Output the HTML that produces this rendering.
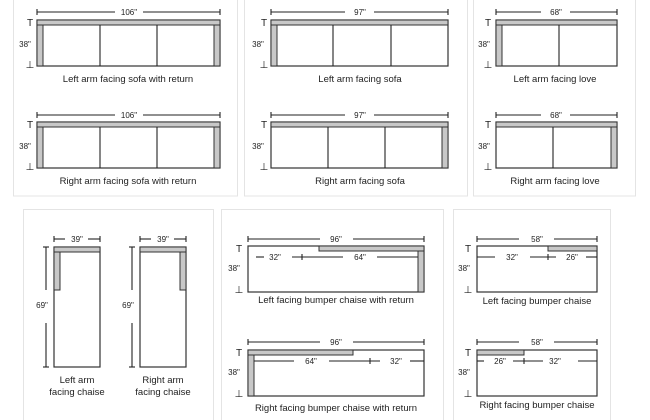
<!DOCTYPE html>
<html><head><meta charset="utf-8"><style>
html,body{margin:0;padding:0;background:#fff;}
svg{display:block;}
text{font-family:"Liberation Sans",sans-serif;fill:#222;}
.lab{font-size:9.5px;text-anchor:middle;}
.dim{font-size:8px;text-anchor:middle;}
.tk{font-size:10px;text-anchor:middle;}
.s{fill:none;stroke:#333;stroke-width:1.2;}
.g{fill:#c8c8c8;stroke:#333;stroke-width:1;}
.d{stroke:#222;stroke-width:1.1;}
.p{fill:none;stroke:#e4e4e4;stroke-width:1;}
</style></head><body>
<svg width="650" height="420" viewBox="0 0 650 420" xmlns="http://www.w3.org/2000/svg">
<rect class="p" x="13.5" y="-5" width="224" height="201"/>
<rect class="p" x="244.5" y="-5" width="223" height="201"/>
<rect class="p" x="473.5" y="-5" width="162" height="201"/>
<rect class="p" x="23.5" y="209.5" width="190" height="215"/>
<rect class="p" x="221.5" y="209.5" width="222" height="215"/>
<rect class="p" x="453.5" y="209.5" width="157" height="215"/>

<g>
<line class="d" x1="37" y1="12" x2="115" y2="12"/><line class="d" x1="143" y1="12" x2="220" y2="12"/>
<line class="d" x1="37" y1="9" x2="37" y2="15"/><line class="d" x1="220" y1="9" x2="220" y2="15"/>
<text class="dim" x="129" y="15">106"</text>
<rect class="s" x="37" y="20" width="183" height="46"/>
<rect class="g" x="37" y="20" width="183" height="5"/>
<rect class="g" x="37" y="25" width="6" height="41"/><rect class="g" x="214" y="25" width="6" height="41"/>
<line class="d" x1="100" y1="25" x2="100" y2="66"/><line class="d" x1="157" y1="25" x2="157" y2="66"/>
<text class="tk" x="30" y="26">T</text><text class="dim" x="25" y="47">38"</text><text class="tk" x="30" y="68">⊥</text>
<text class="lab" x="128" y="82">Left arm facing sofa with return</text>
</g>
<g>
<line class="d" x1="37" y1="115" x2="115" y2="115"/><line class="d" x1="143" y1="115" x2="220" y2="115"/>
<line class="d" x1="37" y1="112" x2="37" y2="118"/><line class="d" x1="220" y1="112" x2="220" y2="118"/>
<text class="dim" x="129" y="118">106"</text>
<rect class="s" x="37" y="122" width="183" height="46"/>
<rect class="g" x="37" y="122" width="183" height="5"/>
<rect class="g" x="37" y="127" width="6" height="41"/><rect class="g" x="214" y="127" width="6" height="41"/>
<line class="d" x1="100" y1="127" x2="100" y2="168"/><line class="d" x1="157" y1="127" x2="157" y2="168"/>
<text class="tk" x="30" y="128">T</text><text class="dim" x="25" y="149">38"</text><text class="tk" x="30" y="170">⊥</text>
<text class="lab" x="128" y="184">Right arm facing sofa with return</text>
</g>

<g>
<line class="d" x1="271" y1="12" x2="345" y2="12"/><line class="d" x1="374" y1="12" x2="448" y2="12"/>
<line class="d" x1="271" y1="9" x2="271" y2="15"/><line class="d" x1="448" y1="9" x2="448" y2="15"/>
<text class="dim" x="360" y="15">97"</text>
<rect class="s" x="271" y="20" width="177" height="46"/>
<rect class="g" x="271" y="20" width="177" height="5"/>
<rect class="g" x="271" y="25" width="6" height="41"/>
<line class="d" x1="333" y1="25" x2="333" y2="66"/><line class="d" x1="391" y1="25" x2="391" y2="66"/>
<text class="tk" x="264" y="26">T</text><text class="dim" x="258" y="47">38"</text><text class="tk" x="264" y="68">⊥</text>
<text class="lab" x="360" y="82">Left arm facing sofa</text>
</g>
<g>
<line class="d" x1="271" y1="115" x2="345" y2="115"/><line class="d" x1="374" y1="115" x2="448" y2="115"/>
<line class="d" x1="271" y1="112" x2="271" y2="118"/><line class="d" x1="448" y1="112" x2="448" y2="118"/>
<text class="dim" x="360" y="118">97"</text>
<rect class="s" x="271" y="122" width="177" height="46"/>
<rect class="g" x="271" y="122" width="177" height="5"/>
<rect class="g" x="442" y="127" width="6" height="41"/>
<line class="d" x1="328" y1="127" x2="328" y2="168"/><line class="d" x1="385" y1="127" x2="385" y2="168"/>
<text class="tk" x="264" y="128">T</text><text class="dim" x="258" y="149">38"</text><text class="tk" x="264" y="170">⊥</text>
<text class="lab" x="360" y="184">Right arm facing sofa</text>
</g>

<g>
<line class="d" x1="496" y1="12" x2="541" y2="12"/><line class="d" x1="570" y1="12" x2="617" y2="12"/>
<line class="d" x1="496" y1="9" x2="496" y2="15"/><line class="d" x1="617" y1="9" x2="617" y2="15"/>
<text class="dim" x="556" y="15">68"</text>
<rect class="s" x="496" y="20" width="121" height="46"/>
<rect class="g" x="496" y="20" width="121" height="5"/>
<rect class="g" x="496" y="25" width="6" height="41"/>
<line class="d" x1="559" y1="25" x2="559" y2="66"/>
<text class="tk" x="488" y="26">T</text><text class="dim" x="484" y="47">38"</text><text class="tk" x="488" y="68">⊥</text>
<text class="lab" x="555" y="82">Left arm facing love</text>
</g>
<g>
<line class="d" x1="496" y1="115" x2="541" y2="115"/><line class="d" x1="570" y1="115" x2="617" y2="115"/>
<line class="d" x1="496" y1="112" x2="496" y2="118"/><line class="d" x1="617" y1="112" x2="617" y2="118"/>
<text class="dim" x="556" y="118">68"</text>
<rect class="s" x="496" y="122" width="121" height="46"/>
<rect class="g" x="496" y="122" width="121" height="5"/>
<rect class="g" x="611" y="127" width="6" height="41"/>
<line class="d" x1="553" y1="127" x2="553" y2="168"/>
<text class="tk" x="488" y="128">T</text><text class="dim" x="484" y="149">38"</text><text class="tk" x="488" y="170">⊥</text>
<text class="lab" x="555" y="184">Right arm facing love</text>
</g>

<g>
<line class="d" x1="54" y1="239" x2="65" y2="239"/><line class="d" x1="88" y1="239" x2="100" y2="239"/>
<line class="d" x1="54" y1="236" x2="54" y2="242"/><line class="d" x1="100" y1="236" x2="100" y2="242"/>
<text class="dim" x="77" y="242">39"</text>
<line class="d" x1="46" y1="247" x2="46" y2="290"/><line class="d" x1="46" y1="323" x2="46" y2="367"/>
<line class="d" x1="43" y1="247" x2="49" y2="247"/><line class="d" x1="43" y1="367" x2="49" y2="367"/>
<text class="dim" x="42" y="308">69"</text>
<rect class="s" x="54" y="247" width="46" height="120"/>
<rect class="g" x="54" y="247" width="46" height="5"/>
<rect class="g" x="54" y="252" width="6" height="38"/>
<text class="lab" x="77" y="383">Left arm</text>
<text class="lab" x="77" y="395">facing chaise</text>
</g>
<g>
<line class="d" x1="140" y1="239" x2="151" y2="239"/><line class="d" x1="174" y1="239" x2="186" y2="239"/>
<line class="d" x1="140" y1="236" x2="140" y2="242"/><line class="d" x1="186" y1="236" x2="186" y2="242"/>
<text class="dim" x="163" y="242">39"</text>
<line class="d" x1="132" y1="247" x2="132" y2="290"/><line class="d" x1="132" y1="323" x2="132" y2="367"/>
<line class="d" x1="129" y1="247" x2="135" y2="247"/><line class="d" x1="129" y1="367" x2="135" y2="367"/>
<text class="dim" x="128" y="308">69"</text>
<rect class="s" x="140" y="247" width="46" height="120"/>
<rect class="g" x="140" y="247" width="46" height="5"/>
<rect class="g" x="180" y="252" width="6" height="38"/>
<text class="lab" x="163" y="383">Right arm</text>
<text class="lab" x="163" y="395">facing chaise</text>
</g>

<g>
<line class="d" x1="248" y1="239" x2="320" y2="239"/><line class="d" x1="353" y1="239" x2="424" y2="239"/>
<line class="d" x1="248" y1="236" x2="248" y2="242"/><line class="d" x1="424" y1="236" x2="424" y2="242"/>
<text class="dim" x="336" y="242">96"</text>
<rect class="s" x="248" y="246" width="176" height="46"/>
<rect class="g" x="319" y="246" width="105" height="5"/>
<rect class="g" x="418" y="251" width="6" height="41"/>
<line class="d" x1="256" y1="257" x2="264" y2="257"/><line class="d" x1="292" y1="257" x2="343" y2="257"/><line class="d" x1="377" y1="257" x2="418" y2="257"/>
<line class="d" x1="302" y1="254" x2="302" y2="260"/>
<text class="dim" x="275" y="260">32"</text><text class="dim" x="360" y="260">64"</text>
<text class="tk" x="239" y="252">T</text><text class="dim" x="234" y="271">38"</text><text class="tk" x="239" y="293">⊥</text>
<text class="lab" x="336" y="303">Left facing bumper chaise with return</text>
</g>
<g>
<line class="d" x1="248" y1="342" x2="320" y2="342"/><line class="d" x1="353" y1="342" x2="424" y2="342"/>
<line class="d" x1="248" y1="339" x2="248" y2="345"/><line class="d" x1="424" y1="339" x2="424" y2="345"/>
<text class="dim" x="336" y="345">96"</text>
<rect class="s" x="248" y="350" width="176" height="46"/>
<rect class="g" x="248" y="350" width="105" height="5"/>
<rect class="g" x="248" y="355" width="6" height="41"/>
<line class="d" x1="254" y1="361" x2="294" y2="361"/><line class="d" x1="329" y1="361" x2="380" y2="361"/><line class="d" x1="410" y1="361" x2="424" y2="361"/>
<line class="d" x1="370" y1="358" x2="370" y2="364"/>
<text class="dim" x="311" y="364">64"</text><text class="dim" x="396" y="364">32"</text>
<text class="tk" x="239" y="356">T</text><text class="dim" x="234" y="375">38"</text><text class="tk" x="239" y="397">⊥</text>
<text class="lab" x="336" y="411">Right facing bumper chaise with return</text>
</g>

<g>
<line class="d" x1="477" y1="239" x2="519" y2="239"/><line class="d" x1="554" y1="239" x2="597" y2="239"/>
<line class="d" x1="477" y1="236" x2="477" y2="242"/><line class="d" x1="597" y1="236" x2="597" y2="242"/>
<text class="dim" x="537" y="242">58"</text>
<rect class="s" x="477" y="246" width="120" height="46"/>
<rect class="g" x="548" y="246" width="49" height="5"/>
<line class="d" x1="477" y1="257" x2="495" y2="257"/><line class="d" x1="530" y1="257" x2="556" y2="257"/><line class="d" x1="586" y1="257" x2="597" y2="257"/>
<line class="d" x1="548" y1="254" x2="548" y2="260"/>
<text class="dim" x="512" y="260">32"</text><text class="dim" x="572" y="260">26"</text>
<text class="tk" x="468" y="252">T</text><text class="dim" x="464" y="271">38"</text><text class="tk" x="468" y="293">⊥</text>
<text class="lab" x="537" y="304">Left facing bumper chaise</text>
</g>
<g>
<line class="d" x1="477" y1="342" x2="519" y2="342"/><line class="d" x1="554" y1="342" x2="597" y2="342"/>
<line class="d" x1="477" y1="339" x2="477" y2="345"/><line class="d" x1="597" y1="339" x2="597" y2="345"/>
<text class="dim" x="537" y="345">58"</text>
<rect class="s" x="477" y="350" width="120" height="46"/>
<rect class="g" x="477" y="350" width="47" height="5"/>
<line class="d" x1="477" y1="361" x2="484" y2="361"/><line class="d" x1="513" y1="361" x2="543" y2="361"/><line class="d" x1="578" y1="361" x2="597" y2="361"/>
<line class="d" x1="524" y1="358" x2="524" y2="364"/>
<text class="dim" x="500" y="364">26"</text><text class="dim" x="555" y="364">32"</text>
<text class="tk" x="468" y="356">T</text><text class="dim" x="464" y="375">38"</text><text class="tk" x="468" y="397">⊥</text>
<text class="lab" x="537" y="408">Right facing bumper chaise</text>
</g>
</svg>
</body></html>
